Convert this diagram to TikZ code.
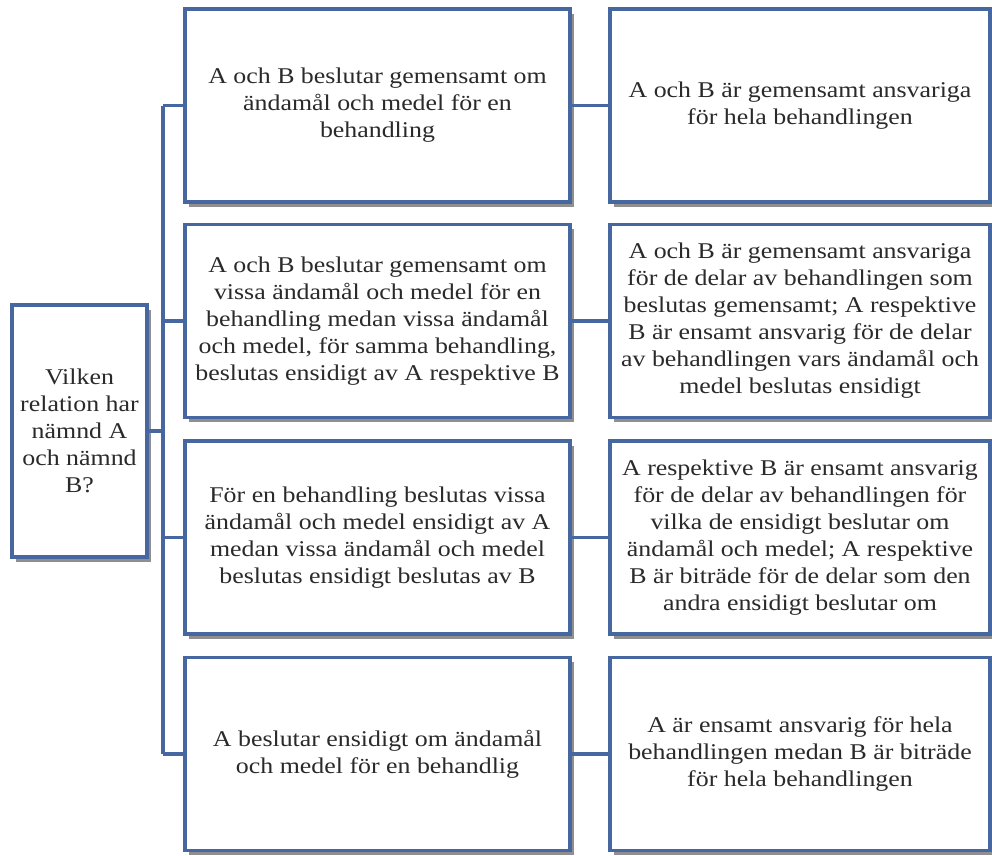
\documentclass[tikz,border=0pt]{standalone}
\usepackage{fontspec}
\setmainfont{Liberation Serif}[FakeStretch=1.15]
\usetikzlibrary{shadows}
\definecolor{bordc}{HTML}{4767A0}
\definecolor{txtc}{HTML}{2A2A2A}
\tikzset{
  box/.style={draw=bordc, line width=3.6pt, fill=white, align=center, text=txtc,
    font=\fontsize{22.5}{27}\selectfont, inner sep=0pt,
    drop shadow={shadow xshift=3.5pt, shadow yshift=-4.5pt, fill=black!55, opacity=0.8}},
  midbox/.style={box, minimum width=385pt, minimum height=193pt},
  rightbox/.style={box, minimum width=380pt, minimum height=193pt},
  conn/.style={draw=bordc, line width=3.4pt}
}
\begin{document}
\begin{tikzpicture}[x=1pt,y=-1pt]
\useasboundingbox (0,0) rectangle (992,855);
\node[box, minimum width=135pt, minimum height=252pt] (q) at (79.5,431) {Vilken\\relation har\\nämnd A\\och nämnd\\B?};
\node[midbox] (m1) at (377.5,105.5) {A och B beslutar gemensamt om\\ändamål och medel för en\\behandling};
\node[midbox] (m2) at (377.5,321) {A och B beslutar gemensamt om\\vissa ändamål och medel för en\\behandling medan vissa ändamål\\och medel, för samma behandling,\\beslutas ensidigt av A respektive B};
\node[midbox] (m3) at (377.5,537.5) {För en behandling beslutas vissa\\ändamål och medel ensidigt av A\\medan vissa ändamål och medel\\beslutas ensidigt beslutas av B};
\node[midbox] (m4) at (377.5,754) {A beslutar ensidigt om ändamål\\och medel för en behandlig};
\node[rightbox] (r1) at (800,105.5) {A och B är gemensamt ansvariga\\för hela behandlingen};
\node[rightbox] (r2) at (800,321) {A och B är gemensamt ansvariga\\för de delar av behandlingen som\\beslutas gemensamt; A respektive\\B är ensamt ansvarig för de delar\\av behandlingen vars ändamål och\\medel beslutas ensidigt};
\node[rightbox] (r3) at (800,537.5) {A respektive B är ensamt ansvarig\\för de delar av behandlingen för\\vilka de ensidigt beslutar om\\ändamål och medel; A respektive\\B är biträde för de delar som den\\andra ensidigt beslutar om};
\node[rightbox] (r4) at (800,754) {A är ensamt ansvarig för hela\\behandlingen medan B är biträde\\för hela behandlingen};
\coordinate (t1) at (163,105.5);
\coordinate (t4) at (163,754);
\coordinate (tq) at (163,431);
\draw[conn] (t1) -- (t4);
\draw[conn] (q.east) -- (tq);
\foreach \i in {1,2,3,4}{
  \draw[conn] (t1 |- m\i.west) -- (m\i.west);
  \draw[conn] (m\i.east) -- (r\i.west);
}
\end{tikzpicture}
\end{document}
